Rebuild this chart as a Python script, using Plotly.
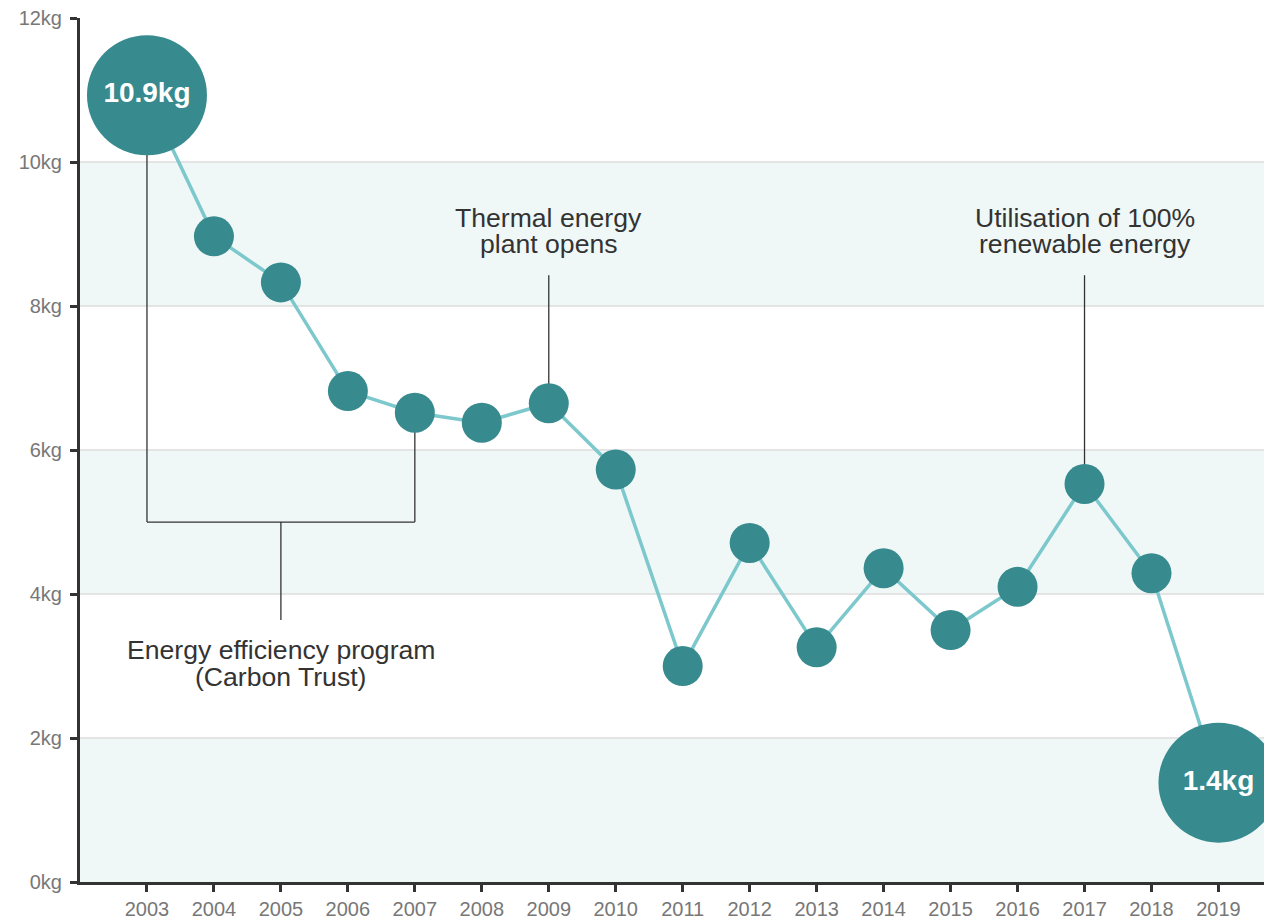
import plotly.graph_objects as go

# ---- data ----
years = [2003, 2004, 2005, 2006, 2007, 2008, 2009, 2010, 2011,
         2012, 2013, 2014, 2015, 2016, 2017, 2018, 2019]
values = [10.93, 8.97, 8.33, 6.82, 6.52, 6.38, 6.65, 5.73, 3.00,
          4.71, 3.26, 4.36, 3.50, 4.10, 5.53, 4.29, 1.38]
y_ticks = [0, 2, 4, 6, 8, 10, 12]
bands = [(0, 2), (4, 6), (8, 10)]

# event annotations
bracket_years = (2003, 2007)     # energy efficiency program bracket
bracket_level = 5.0
bracket_stem_year = 2005
bracket_stem_bottom = 3.64
bracket_text = ["Energy efficiency program", "(Carbon Trust)"]
bracket_text_y = [3.22, 2.85]

single_events = [
    (2009, ["Thermal energy", "plant opens"]),
    (2017, ["Utilisation of 100%", "renewable energy"]),
]
event_line_top = 8.43
event_text_y = [9.23, 8.86]

# ---- styles ----
FONT = "Liberation Sans, Arial, Helvetica, sans-serif"
DARK = "#378a8e"
LIGHT_LINE = "#7cc8cc"
BAND = "#eff8f7"
GRID = "#e4e4e4"
AXIS = "#333333"
TICK_FONT = "#777777"
ANN_FONT = "#333333"

n = len(years)
sizes = [120 if i in (0, n - 1) else 40 for i in range(n)]
labels = [f"{v:.1f}kg" if i in (0, n - 1) else "" for i, v in enumerate(values)]

fig = go.Figure()
fig.add_trace(go.Scatter(
    x=years, y=values,
    mode="lines+markers+text",
    line=dict(color=LIGHT_LINE, width=3.5),
    marker=dict(size=sizes, color=DARK, opacity=1, line=dict(width=0)),
    text=labels,
    textposition="middle center",
    textfont=dict(family=FONT, size=28, color="white", weight="bold"),
    cliponaxis=False,
    hoverinfo="skip",
    showlegend=False,
))

shapes = []
for lo, hi in bands:
    shapes.append(dict(type="rect", xref="paper", yref="y", x0=0, x1=1, y0=lo, y1=hi,
                       fillcolor=BAND, line=dict(width=0), layer="below"))

line_style = dict(color=ANN_FONT, width=1.3)
val = dict(zip(years, values))
b0, b1 = bracket_years
# bracket
shapes.append(dict(type="line", xref="x", yref="y", x0=b0, x1=b0, y0=val[b0], y1=bracket_level,
                   line=line_style, layer="between"))
shapes.append(dict(type="line", xref="x", yref="y", x0=b1, x1=b1, y0=val[b1], y1=bracket_level,
                   line=line_style, layer="between"))
shapes.append(dict(type="line", xref="x", yref="y", x0=b0, x1=b1, y0=bracket_level, y1=bracket_level,
                   line=line_style, layer="between"))
shapes.append(dict(type="line", xref="x", yref="y", x0=bracket_stem_year, x1=bracket_stem_year,
                   y0=bracket_level, y1=bracket_stem_bottom, line=line_style, layer="between"))
for yr, _ in single_events:
    shapes.append(dict(type="line", xref="x", yref="y", x0=yr, x1=yr, y0=event_line_top, y1=val[yr],
                       line=line_style, layer="between"))

annotations = []
for txt, ty in zip(bracket_text, bracket_text_y):
    annotations.append(dict(x=bracket_stem_year, y=ty, xref="x", yref="y", text=txt, showarrow=False,
                            xanchor="center", yanchor="middle",
                            font=dict(family=FONT, size=26.6, color=ANN_FONT)))
for yr, lines in single_events:
    for txt, ty in zip(lines, event_text_y):
        annotations.append(dict(x=yr, y=ty, xref="x", yref="y", text=txt, showarrow=False,
                                xanchor="center", yanchor="middle",
                                font=dict(family=FONT, size=26.6, color=ANN_FONT)))

fig.update_layout(
    width=1264, height=920,
    margin=dict(l=80, r=0, t=18, b=38),
    paper_bgcolor="white", plot_bgcolor="white",
    shapes=shapes, annotations=annotations,
    font=dict(family=FONT),
    hovermode=False,
    xaxis=dict(
        range=[2002, 2019.68], tickvals=years, ticktext=[str(y) for y in years],
        showgrid=False, zeroline=False,
        showline=True, linecolor=AXIS, linewidth=3,
        ticks="outside", ticklen=7, tickwidth=3, tickcolor=AXIS,
        tickfont=dict(family=FONT, size=20, color=TICK_FONT),
    ),
    yaxis=dict(
        range=[0, 12.003], tickvals=y_ticks, ticktext=[f"{t}kg" for t in y_ticks],
        showgrid=True, gridcolor=GRID, gridwidth=2, zeroline=False,
        showline=True, linecolor=AXIS, linewidth=3,
        ticks="outside", ticklen=7, tickwidth=3, tickcolor=AXIS,
        ticklabelstandoff=4, ticklabeloverflow="allow",
        tickfont=dict(family=FONT, size=20, color=TICK_FONT),
    ),
)

# remove the browser's default page margin so the 1264x920 figure fills the window
fig.write_html(
    "out.html",
    config={"displayModeBar": False},
    post_script="document.body.style.margin='0';document.body.style.overflow='hidden';",
)
